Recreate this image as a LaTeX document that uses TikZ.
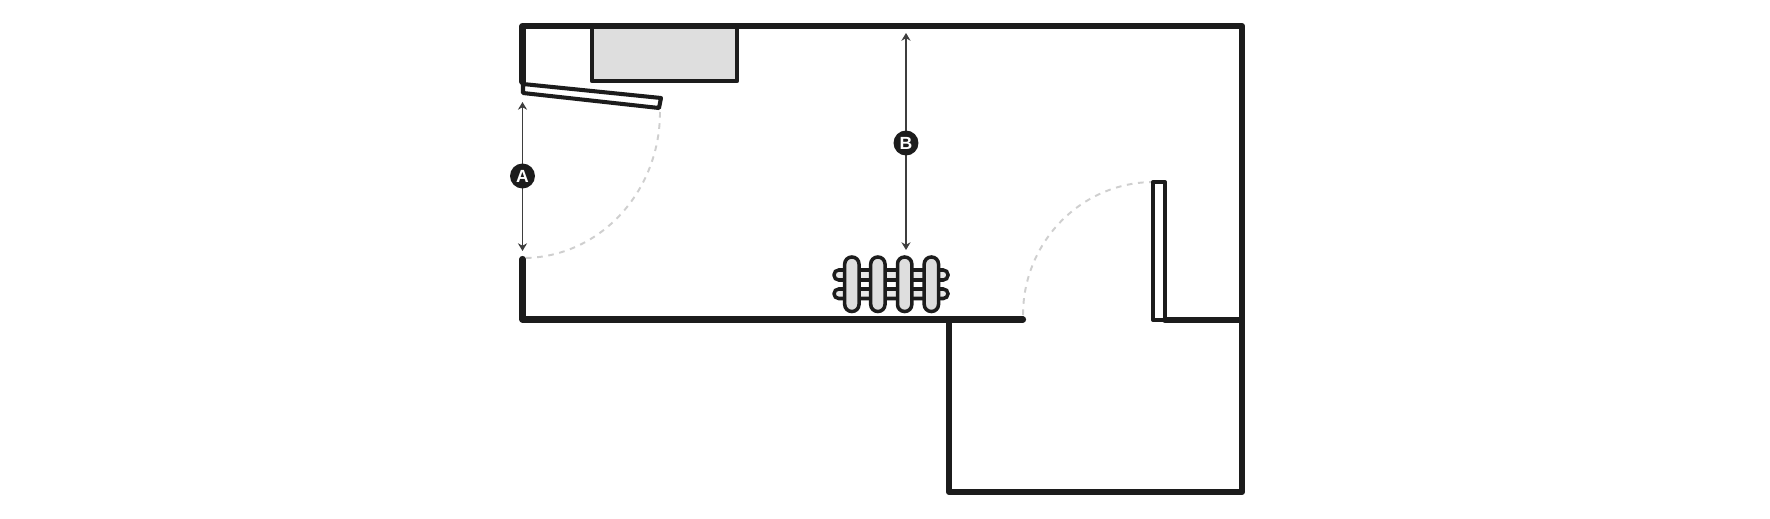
\documentclass[tikz,border=0pt]{standalone}
\usepackage{fontspec}
\setsansfont{Liberation Sans}
\usetikzlibrary{arrows.meta}
\definecolor{wallblack}{HTML}{1C1C1C}
\definecolor{unitgrey}{HTML}{DEDEDE}
\definecolor{swinggrey}{HTML}{CFCFCF}
\tikzset{
  wall/.style={draw=wallblack, line width=1.75pt, line cap=round, line join=round},
  leaf/.style={draw=wallblack, line width=1.15pt, fill=white, line join=round},
  unit/.style={draw=wallblack, line width=1.2pt, fill=unitgrey, line join=round},
  fin/.style={draw=wallblack, line width=1pt, fill=unitgrey, rounded corners=2pt},
  bar/.style={draw=wallblack, line width=1pt, fill=unitgrey!70, rounded corners=1.35pt},
  swing/.style={draw=swinggrey, line width=0.55pt, dash pattern=on 1.6pt off 1.6pt},
  measure/.style={draw=wallblack!85, line width=0.45pt, {Stealth[length=2.2pt,width=2.6pt]}-{Stealth[length=2.2pt,width=2.6pt]}},
  badge/.style={circle, fill=wallblack, inner sep=0pt, minimum size=7.1pt, text=white, font=\sffamily\bfseries\fontsize{5}{5}\selectfont}
}

\begin{document}
\begin{tikzpicture}[x=0.01cm, y=-0.01cm]
\useasboundingbox (0,0) rectangle (1770,518);
\fill[white] (0,0) rectangle (1770,518);
% door swings
\draw[swing] (660,112) arc[start angle=0, end angle=90, x radius=137, y radius=146];
\draw[swing] (1023,315) arc[start angle=180, end angle=270, x radius=131, y radius=133];
% cupboard
\draw[unit] (592,26) rectangle (737,81);
% radiator
\draw[bar] (834,270) rectangle (948,280);
\draw[bar] (834,289) rectangle (948,298.5);
\draw[fin] (844.7,257) rectangle (859,311.5);
\draw[fin] (870.7,257) rectangle (885,311.5);
\draw[fin] (897.5,257) rectangle (911.8,311.5);
\draw[fin] (924.2,257) rectangle (938.5,311.5);
% door leaves
\draw[leaf] (523,84) -- (661,98) -- (659,108) -- (523,93) -- cycle;
\draw[leaf] (1153,182) rectangle (1165,320);
% walls
\draw[wall] (522.5,82) -- (522.5,26) -- (1242,26) -- (1242,320) -- (1165,320);
\draw[wall] (522.5,259) -- (522.5,319.5) -- (1023,319.5);
\draw[wall] (949,319.5) -- (949,492) -- (1242,492) -- (1242,320);
% heights
\coordinate (atop) at (522.5,102);
\coordinate (abot) at (522.5,251);
\coordinate (btop) at (906,33);
\coordinate (bbot) at (906,250);
\draw[measure] (atop) -- (abot);
\draw[measure] (btop) -- (bbot);
\node[badge] (labela) at (522.5,176) {A};
\node[badge] (labelb) at (906,143) {B};
\end{tikzpicture}
\end{document}
